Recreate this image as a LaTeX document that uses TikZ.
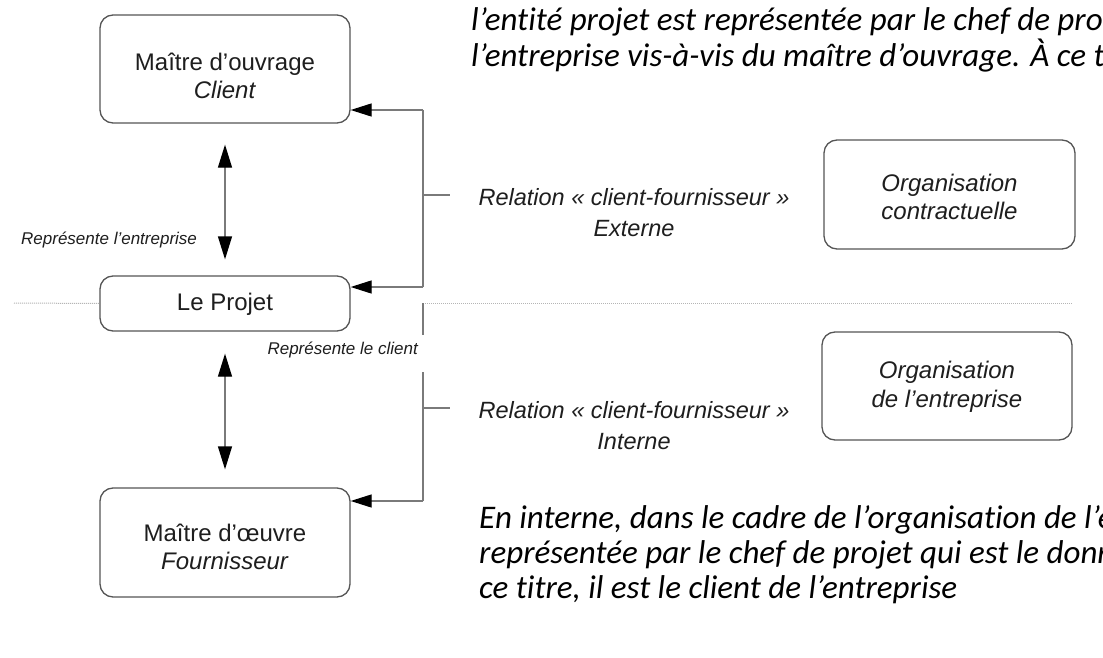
\documentclass[tikz,border=0pt]{standalone}
\usepackage{fontspec}
\setmainfont{Liberation Sans}
\newfontfamily\calib[Ligatures={NoCommon,NoRequired,NoContextual}]{Carlito}
\usetikzlibrary{arrows.meta}
\definecolor{boxline}{HTML}{555555}
\definecolor{conn}{HTML}{7A7A7A}
\definecolor{dotc}{HTML}{B5B5B5}
\definecolor{txt}{HTML}{1E1E1E}
\begin{document}
\begin{tikzpicture}[x=1pt,y=-1pt,
  box/.style={draw=boxline, line width=1.3pt, rounded corners=13pt, minimum width=250pt, inner sep=0pt},
  btxt/.style={align=center, text=txt, inner sep=0pt, font=\fontsize{24}{28.5}\selectfont},
  lbl/.style={inner sep=0pt, text=txt, font=\fontsize{17}{20}\selectfont\itshape},
  rel/.style={align=center, inner sep=0pt, text=txt, font=\fontsize{23.5}{31}\selectfont\itshape},
  para/.style={inner sep=0pt, text=black, font=\fontsize{33}{36}\selectfont\calib\itshape},
  conn/.style={draw=conn, line width=1.3pt},
  arr/.style={conn, -{Triangle[length=21pt,width=13pt,color=black]}},
  darr/.style={conn, {Triangle[length=23pt,width=14pt,color=black]}-{Triangle[length=23pt,width=14pt,color=black]}},
  dotl/.style={draw=dotc, line width=1pt, dash pattern=on 1pt off 1pt}
]
\clip (0,0) rectangle (1103,658);
\fill[white] (0,0) rectangle (1103,658);

% boxes
\node[box, minimum height=108pt] (b1) at (225,69) {};
\node[btxt] (b1t) at (225,76) {Maître d’ouvrage\\\textit{Client}};
\node[box, minimum height=55pt] (proj) at (225,303.5) {};
\node[btxt] (projt) at (225,304) {Le Projet};
\node[box, minimum height=109pt] (b3) at (225,542.5) {};
\node[btxt] (b3t) at (225,547) {Maître d’œuvre\\\textit{Fournisseur}};
\node[box, minimum width=251pt, minimum height=109pt] (oc) at (949.5,194.5) {};
\node[btxt] (oct) at (949.5,197) {\textit{Organisation}\\\textit{contractuelle}};
\node[box, minimum height=108pt] (oe) at (947,386) {};
\node[btxt] (oet) at (947,387) {\textit{Organisation}\\\textit{de l’entreprise}};

% dotted separator
\coordinate (dl) at (14,303);
\coordinate (dr1) at (423,303);
\coordinate (dr2) at (1072,303);
\draw[dotl] (dl) -- (proj.west);
\draw[dotl] (dr1) -- (dr2);

% vertical double arrows
\draw[darr, shorten <=21pt, shorten >=16pt] (b1.south) -- (proj.north);
\draw[darr, shorten <=22pt, shorten >=18pt] (proj.south) -- (b3.north);

% external bracket
\coordinate (ua) at (423,110);
\coordinate (ub) at (423,287);
\coordinate (us0) at (423,195);
\coordinate (us1) at (450,195);
\draw[conn] (ua) -- (ub);
\draw[conn] (us0) -- (us1);
\draw[arr] (ua) -- (ua -| b1.east);
\draw[arr] (ub) -- (ub -| proj.east);

% internal bracket
\coordinate (la) at (423,303);
\coordinate (lb) at (423,335);
\coordinate (lc) at (423,372);
\coordinate (ld) at (423,501);
\coordinate (ls0) at (423,408);
\coordinate (ls1) at (450,408);
\draw[conn] (la) -- (lb);
\draw[conn] (lc) -- (ld);
\draw[conn] (ls0) -- (ls1);
\draw[arr] (ld) -- (ld -| b3.east);

% labels
\node[lbl, anchor=west] (lre) at (21,240) {Représente l’entreprise};
\node[lbl, anchor=east] (lrc) at (418,350) {Représente le client};
\node[rel] (rel1) at (634,212.5) {Relation «~client-fournisseur~»\\Externe};
\node[rel] (rel2) at (634,426) {Relation «~client-fournisseur~»\\Interne};

% paragraphs
\node[para, anchor=base west] (p1) at (471,31) {l’entité projet est représentée par le chef de pro};
\node[para, anchor=base west] (p2) at (471,67) {l’entreprise vis-à-vis du maître d’ouvrage. À ce t};
\node[para, anchor=base west] (p3) at (479,528) {En interne, dans le cadre de l’organisation de l’e};
\node[para, anchor=base west] (p4) at (479,563) {représentée par le chef de projet qui est le donn};
\node[para, anchor=base west] (p5) at (479,598) {ce titre, il est le client de l’entreprise};
\end{tikzpicture}
\end{document}
